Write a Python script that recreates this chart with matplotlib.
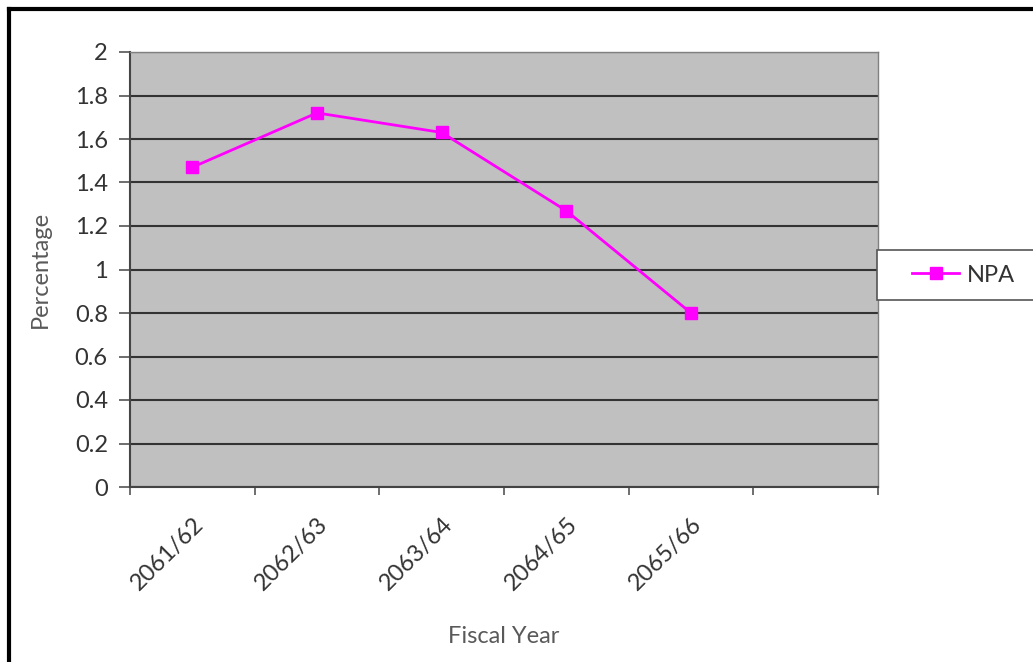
import numpy as np
from matplotlib import pyplot as plt
from matplotlib.patches import Rectangle
from matplotlib.lines import Line2D

years = ["2061/62", "2062/63", "2063/64", "2064/65", "2065/66"]
npa = [1.47, 1.72, 1.63, 1.27, 0.80]
n_slots = 6  # one empty category slot at the right end

plt.rcParams["font.family"] = ["Lato", "DejaVu Sans"]

fig = plt.figure(figsize=(10.33, 6.62), dpi=100)
ax = fig.add_axes([130 / 1033, 175 / 662, 748 / 1033, 435 / 662])
ax.set_facecolor("#c0c0c0")

x = np.arange(len(years))
ax.plot(x, npa, color="#ff00ff", lw=2, marker="s", markersize=8, label="NPA", zorder=3)

ax.set_xlim(-0.5, n_slots - 0.5)
ax.set_ylim(0, 2)
ax.set_yticks(np.arange(0, 2.01, 0.2))
ax.set_yticklabels(["0", "0.2", "0.4", "0.6", "0.8", "1", "1.2", "1.4", "1.6", "1.8", "2"])
ax.yaxis.grid(True, color="#333333", lw=1.5)
ax.set_axisbelow(True)

# boundary ticks between categories, labels at centers
ax.set_xticks(np.arange(-0.5, n_slots, 1.0))
ax.set_xticklabels([])
ax.set_xticks(x, minor=True)
ax.set_xticklabels(years, minor=True, rotation=45, ha="right", rotation_mode="anchor",
                   fontsize=17, color="#333333")
ax.tick_params(axis="x", which="minor", length=0, pad=19)
ax.tick_params(axis="x", which="major", length=6, width=1.2, color="#555555", direction="out")
ax.tick_params(axis="y", length=8, width=1.2, color="#555555", labelsize=17,
               labelcolor="#333333", pad=8)

for side in ["left", "bottom"]:
    ax.spines[side].set_color("#444444")
    ax.spines[side].set_linewidth(1.5)
for side in ["top", "right"]:
    ax.spines[side].set_color("#808080")
    ax.spines[side].set_linewidth(1)

ax.set_xlabel("Fiscal Year", fontsize=17, color="#595959", labelpad=23)
ax.set_ylabel("Percentage", fontsize=17, color="#595959", labelpad=17)

# legend box, running off the right edge
fig.patches.append(Rectangle((877 / 1033, 362 / 662), 0.2, 50 / 662, transform=fig.transFigure,
                             facecolor="white", edgecolor="#555555", lw=1.2, zorder=1))
handle = Line2D([], [], color="#ff00ff", lw=2, marker="s", markersize=8)
fig.legend([handle], ["NPA"], loc="center left", bbox_to_anchor=(891 / 1033, 387 / 662),
           frameon=False, fontsize=17, handlelength=2.0, handletextpad=0.3,
           labelcolor="#333333")

# outer frame (top and left edges visible)
fig.add_artist(Line2D([9 / 1033, 1], [1 - 9 / 662, 1 - 9 / 662], transform=fig.transFigure,
                      color="black", lw=3))
fig.add_artist(Line2D([9 / 1033, 9 / 1033], [0, 1 - 9 / 662], transform=fig.transFigure,
                      color="black", lw=3))

plt.savefig("out.png", dpi=100)
